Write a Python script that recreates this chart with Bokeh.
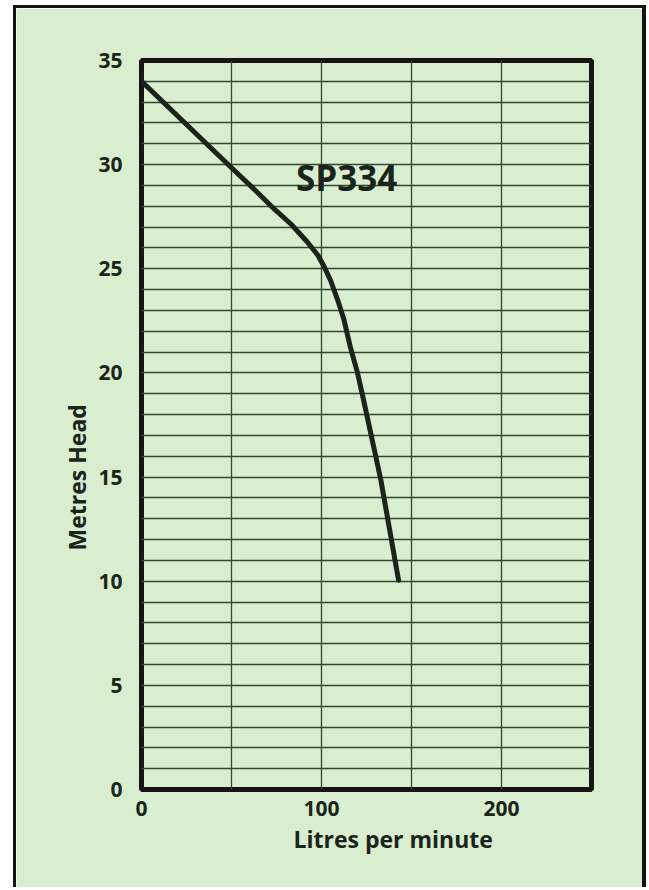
from bokeh.plotting import figure
from bokeh.models import FixedTicker, Label, Title
from bokeh.embed import file_html
from bokeh.resources import INLINE

# Pump curve SP334
flow_lpm = [0, 50, 64, 74, 83, 92, 98, 101.5, 105, 109, 112.5, 116, 120, 123, 133, 142.8]
head_m = [34, 29.85, 28.7, 27.85, 27.15, 26.3, 25.65, 25.1, 24.45, 23.5, 22.55, 21.25, 20.0, 18.85, 14.85, 10.05]

x_ticks = [0, 100, 200]
y_ticks = [0, 5, 10, 15, 20, 25, 30, 35]
x_grid = [0, 50, 100, 150, 200, 250]
y_grid = list(range(0, 36))

model_name = "SP334"
x_title = "Litres per minute"
y_title = "Metres Head"

BG = "#d9edcf"
INK = "#1b241b"
GRID = "#2f4a30"
FRAME = "#151515"
FONT = "Open Sans"

p = figure(width=626, height=879, x_range=(0, 250), y_range=(0, 35),
           output_backend="svg", toolbar_location=None,
           min_border_left=125, min_border_right=58,
           min_border_top=52, min_border_bottom=101)
p.styles = {"box-sizing": "content-box", "margin-left": "13px", "margin-top": "5px",
            "border-left": f"3px solid {FRAME}", "border-top": f"3px solid {FRAME}",
            "border-right": f"4px solid {FRAME}"}

p.background_fill_color = BG
p.border_fill_color = BG
p.outline_line_color = FRAME
p.outline_line_width = 5

p.xgrid.ticker = FixedTicker(ticks=x_grid)
p.ygrid.ticker = FixedTicker(ticks=y_grid)
for g in (p.xgrid, p.ygrid):
    g.grid_line_color = GRID
    g.grid_line_width = 1.3

p.xaxis.ticker = FixedTicker(ticks=x_ticks)
p.yaxis.ticker = FixedTicker(ticks=y_ticks)
for ax in (p.xaxis, p.yaxis):
    ax.axis_line_color = None
    ax.major_tick_line_color = None
    ax.minor_tick_line_color = None
    ax.major_tick_out = 0
    ax.major_tick_in = 0
    ax.major_label_text_font = FONT
    ax.major_label_text_font_style = "bold"
    ax.major_label_text_font_size = "21px"
    ax.major_label_text_color = INK
p.yaxis.major_label_standoff = 19
p.xaxis.major_label_standoff = 11

p.add_layout(Title(text=x_title, align="left", offset=152, text_font=FONT,
                   text_font_style="bold", text_font_size="23px", text_color=INK,
                   standoff=4), "below")
p.add_layout(Title(text=y_title, align="left", offset=239, text_font=FONT,
                   text_font_style="bold", text_font_size="23px", text_color=INK,
                   standoff=6), "left")

p.line(flow_lpm, head_m, line_color=INK, line_width=5, line_join="round", line_cap="round")

p.add_layout(Label(x=114, y=29.4, text=model_name, text_font=FONT, text_font_style="bold",
                   text_font_size="35px", text_color=INK, text_align="center",
                   text_baseline="middle"))

open("out.html", "w").write(file_html(p, INLINE))
